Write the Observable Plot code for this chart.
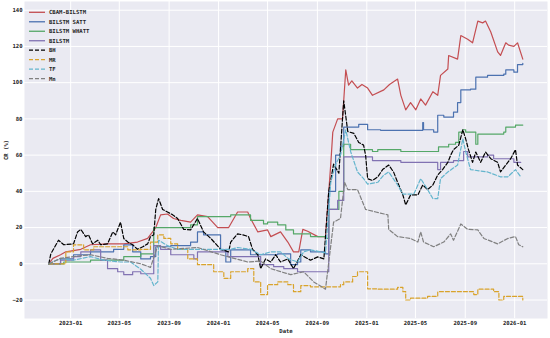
<!DOCTYPE html>
<html>
<head>
<meta charset="utf-8">
<script src="https://cdn.jsdelivr.net/npm/d3@7"></script>
<script src="https://cdn.jsdelivr.net/npm/@observablehq/plot@0.6"></script>
<style>
  html, body { margin: 0; padding: 0; background: white; }
  #chart { width: 550px; height: 338px; }
</style>
</head>
<body>
<div id="chart"></div>
<script>
// ---- Data ----
const seriesNames = ["CBAM-BILSTM", "BILSTM SATT", "BILSTM WHATT", "BILSTM", "BH", "MR", "TF", "Mn"];
const seriesColors = ["#C44E52", "#4C72B0", "#55A868", "#8172B2", "#000000", "#D9A32B", "#64B5CD", "#808080"];
const seriesDashed = [false, false, false, false, true, true, true, true];
const seriesCurve = ["linear", "step-after", "step-after", "step-after", "linear", "step-after", "linear", "linear"];

const xTickDates = ["2023-01-01","2023-05-01","2023-09-01","2024-01-01","2024-05-01","2024-09-01","2025-01-01","2025-05-01","2025-09-01","2026-01-01"];
const yTickValues = [-20, 0, 20, 40, 60, 80, 100, 120, 140];

const cbamBilstm = [
["2022-11-08",0],["2022-11-18",3],["2022-12-07",5],["2022-12-20",6.6],["2023-01-26",8],["2023-02-19",10.5],
["2023-04-02",11],["2023-05-12",11],["2023-06-15",12],["2023-07-10",14],["2023-07-30",20],["2023-08-11",27],
["2023-08-28",27.5],["2023-09-12",25],["2023-09-30",24],["2023-10-24",23],["2023-11-10",27],["2023-12-05",26],
["2023-12-30",20],["2024-01-26",20],["2024-02-17",28.6],["2024-03-13",28.6],["2024-03-20",25],["2024-04-07",17.6],
["2024-05-01",18.7],["2024-05-09",15],["2024-06-02",17.6],["2024-06-20",12],["2024-07-04",6.6],["2024-07-17",6.6],
["2024-07-27",19],["2024-08-08",18],["2024-09-02",15],["2024-09-21",15],["2024-10-04",55],["2024-10-09",72.7],
["2024-10-21",80],["2024-11-02",80],["2024-11-10",107],["2024-11-17",98.6],["2024-11-25",101],["2024-12-09",97],
["2024-12-20",99],["2025-01-03",97],["2025-01-15",93],["2025-02-12",96],["2025-02-26",99],["2025-03-18",102],
["2025-03-26",93],["2025-04-07",85],["2025-04-19",89],["2025-05-02",85],["2025-05-14",91],["2025-05-26",87.6],
["2025-06-13",95],["2025-06-25",93],["2025-07-02",104],["2025-07-20",107.5],["2025-07-22",115],["2025-08-13",113],
["2025-08-21",126],["2025-09-07",124],["2025-09-19",122],["2025-10-02",134],["2025-10-14",133],["2025-10-21",134],
["2025-11-03",128],["2025-11-20",117],["2025-11-27",115],["2025-12-10",122],["2025-12-17",120.7],["2025-12-30",120],
["2026-01-08",122],["2026-01-21",113]
];

const bilstmSatt = [
["2022-11-08",0],["2022-12-07",2.7],["2023-01-08",5],["2023-02-19",6.6],["2023-03-23",6.6],["2023-04-17",8],
["2023-05-12",10.5],["2023-06-03",6.6],["2023-06-23",2.7],["2023-07-17",4],["2023-07-30",9.4],["2023-08-11",9.4],
["2023-09-05",10],["2023-10-24",12],["2023-11-10",17.6],["2023-11-25",16],["2024-01-06",7.7],["2024-01-19",1],
["2024-01-31",7.7],["2024-03-20",5],["2024-04-21",5],["2024-05-26",5.5],["2024-06-27",-0.5],["2024-07-14",1],
["2024-07-22",7.7],["2024-08-15",6.6],["2024-09-21",5.5],["2024-09-29",40],["2024-10-16",60],["2024-10-28",65],
["2024-11-05",75.5],["2024-12-12",77],["2025-01-03",74],["2025-02-04",73.7],["2025-05-14",73.7],["2025-05-19",78],
["2025-05-21",74],["2025-06-15",72.7],["2025-06-25",82],["2025-07-10",81],["2025-08-03",83.7],["2025-08-13",89],
["2025-08-21",96],["2025-09-14",96.4],["2025-09-27",103],["2025-10-26",104],["2025-12-05",104.7],["2025-12-10",107],
["2025-12-30",105.8],["2026-01-08",110],["2026-01-21",110.7]
];

const bilstmWhatt = [
["2022-11-08",0],["2022-12-15",1],["2023-02-19",2],["2023-05-12",4],["2023-06-23",5.5],["2023-07-25",20],
["2023-08-11",20],["2023-09-05",20],["2023-10-24",21.5],["2023-11-10",26],["2023-12-13",26],["2024-01-31",27],
["2024-03-20",24],["2024-04-21",22],["2024-05-01",23],["2024-05-26",21.5],["2024-06-15",18.7],["2024-07-04",16.5],
["2024-08-15",15],["2024-09-21",14],["2024-09-29",30],["2024-10-24",40],["2024-11-05",66],["2024-11-22",63],
["2025-01-03",63],["2025-01-15",62],["2025-01-28",63],["2025-03-26",62],["2025-06-25",62],["2025-06-27",64.5],
["2025-07-22",66],["2025-08-08",67],["2025-08-16",72.7],["2025-08-26",74],["2025-09-02",72.7],["2025-09-22",72.7],
["2025-09-27",66],["2025-10-02",71.6],["2025-11-27",71.6],["2025-12-05",72.7],["2025-12-10",75.5],["2026-01-03",76.6],
["2026-01-21",76.6]
];

const bilstm = [
["2022-11-08",0],["2022-12-07",2],["2023-01-08",4],["2023-01-26",6.6],["2023-02-19",7.7],["2023-03-16",2],
["2023-04-02",-2.7],["2023-04-27",-4.4],["2023-05-12",-6],["2023-06-03",-4.4],["2023-06-23",-5.5],["2023-07-17",-5.5],
["2023-07-25",10],["2023-08-11",8],["2023-09-05",5],["2023-11-01",2.7],["2023-11-10",6.6],["2024-01-14",6.6],
["2024-01-24",4],["2024-03-25",4],["2024-04-14",-0.5],["2024-05-16",-1.6],["2024-06-10",-2.7],["2024-07-14",-4.4],
["2024-09-21",-4.4],["2024-09-29",30],["2024-10-21",35],["2024-11-05",59],["2025-01-03",59],["2025-01-15",57],
["2025-03-18",57],["2025-03-26",56],["2025-06-15",56],["2025-06-25",52],["2025-07-02",56],["2025-08-03",57],
["2025-08-28",62],["2025-09-07",59],["2025-10-09",59],["2025-10-26",60],["2025-11-10",58],["2025-11-27",58],
["2025-12-30",56],["2026-01-16",56]
];

const bh = [
["2022-11-08",0],["2022-11-13",5.5],["2022-12-02",13],["2022-12-15",10.5],["2023-01-08",11],["2023-01-18",17.6],
["2023-01-26",19],["2023-02-07",15],["2023-02-14",16],["2023-02-24",11],["2023-03-09",13],["2023-03-16",10.5],
["2023-04-02",11],["2023-04-15",17.6],["2023-04-22",16],["2023-05-04",23],["2023-05-12",14],["2023-05-22",12],
["2023-06-03",10.5],["2023-06-15",8],["2023-06-28",9.4],["2023-07-10",11],["2023-07-17",15],["2023-07-25",16],
["2023-07-30",30],["2023-08-06",36],["2023-08-16",30],["2023-08-28",28.6],["2023-09-10",27],["2023-09-22",25],
["2023-10-07",19],["2023-10-24",18.7],["2023-11-10",25],["2023-11-25",17.6],["2023-12-13",14],["2024-01-06",8],
["2024-01-26",6.6],["2024-01-31",12],["2024-02-17",16.5],["2024-03-01",16],["2024-03-15",15],["2024-03-25",8],
["2024-04-07",5],["2024-04-14",-2.7],["2024-04-26",2.7],["2024-05-09",1],["2024-05-21",5],["2024-06-02",1],
["2024-06-20",2.7],["2024-07-04",-2.7],["2024-07-22",5],["2024-08-15",2],["2024-09-02",3.8],["2024-09-17",2.7],
["2024-09-29",40],["2024-10-11",55],["2024-10-24",50],["2024-11-05",90],["2024-11-15",73],["2024-11-30",72],
["2024-12-12",67],["2024-12-24",65.5],["2024-12-29",60],["2025-01-03",47],["2025-01-15",46],["2025-01-28",48],
["2025-02-09",52],["2025-02-24",54.5],["2025-03-08",50.7],["2025-03-18",45],["2025-03-31",38],["2025-04-07",32.5],
["2025-04-19",38],["2025-05-07",38],["2025-05-19",43.5],["2025-05-31",41],["2025-06-13",43.5],["2025-06-25",49],
["2025-07-07",52],["2025-07-20",56],["2025-07-27",60],["2025-08-03",63],["2025-08-16",65.5],["2025-08-26",74],
["2025-09-02",69],["2025-09-09",63],["2025-09-19",56],["2025-09-27",61.7],["2025-10-09",56],["2025-10-21",61.7],
["2025-11-03",58],["2025-11-20",56],["2025-11-27",50.7],["2025-12-10",54.5],["2025-12-22",58],["2026-01-03",63],
["2026-01-08",54.5],["2026-01-21",52]
];

const mr = [
["2022-11-08",0],["2022-12-20",6.6],["2023-01-08",10.5],["2023-02-02",7.7],["2023-02-27",9.4],["2023-04-02",9.4],
["2023-05-22",7.7],["2023-06-23",8],["2023-07-17",12],["2023-08-04",16],["2023-08-19",14],["2023-09-05",11],
["2023-09-22",8],["2023-10-17",2.7],["2023-11-10",-0.5],["2023-12-20",-4.4],["2024-01-14",-8],["2024-01-31",-4.4],
["2024-03-13",-2.7],["2024-03-28",-10],["2024-04-14",-17],["2024-05-01",-11.5],["2024-05-26",-10],["2024-06-20",-11.5],
["2024-07-04",-15.4],["2024-07-22",-12],["2024-08-15",-12.7],["2024-09-17",-12.7],["2024-10-28",-11.5],["2024-11-05",-10],
["2024-11-27",-7],["2024-12-09",-4.4],["2024-12-29",-4.4],["2025-01-03",-13.8],["2025-01-28",-14],["2025-03-18",-13],
["2025-03-31",-15.4],["2025-04-07",-20],["2025-04-19",-19],["2025-05-31",-18],["2025-06-25",-15.4],["2025-09-14",-15.4],
["2025-09-22",-17],["2025-10-02",-14],["2025-11-10",-15.4],["2025-11-23",-20],["2025-12-05",-18],["2026-01-08",-18],
["2026-01-21",-20]
];

const tf = [
["2022-11-08",0],["2022-12-07",3],["2023-01-08",2],["2023-02-19",4],["2023-03-23",2],["2023-05-04",1],
["2023-05-29",1],["2023-06-23",-3],["2023-07-17",-8],["2023-07-25",-12],["2023-08-04",-10],["2023-08-06",13],
["2023-08-28",10],["2023-09-22",8],["2023-11-10",8],["2024-01-31",8],["2024-02-17",9],["2024-03-20",8],
["2024-04-14",5],["2024-05-09",6.6],["2024-06-02",6.6],["2024-06-22",2.7],["2024-07-14",1],["2024-07-29",6.6],
["2024-08-15",7.7],["2024-09-09",6.6],["2024-09-21",6],["2024-10-04",45],["2024-10-16",55],["2024-10-28",60],
["2024-11-10",74],["2024-11-22",62],["2024-12-09",50.7],["2024-12-24",47],["2025-01-03",44],["2025-01-28",45],
["2025-02-12",49],["2025-02-24",50.7],["2025-03-18",43.5],["2025-03-31",38.5],["2025-04-27",38.5],["2025-05-14",47],
["2025-05-31",41],["2025-06-13",36],["2025-06-25",36],["2025-07-02",47],["2025-07-20",50.7],["2025-08-13",54.5],
["2025-08-26",69],["2025-09-02",62],["2025-09-14",52],["2025-10-26",50.7],["2025-11-27",48],["2025-12-15",48],
["2026-01-03",52],["2026-01-16",48]
];

const mn = [
["2022-11-08",0],["2022-12-07",3],["2023-01-08",4],["2023-02-19",5],["2023-04-02",3],["2023-05-12",2],
["2023-06-23",0],["2023-07-17",-2],["2023-08-04",10],["2023-09-05",8],["2023-11-10",9],["2024-01-06",5],
["2024-03-13",1],["2024-04-14",1.5],["2024-05-09",-2.7],["2024-06-27",-6],["2024-07-29",-4.4],["2024-08-23",-10],
["2024-09-21",-14],["2024-10-04",10],["2024-10-11",23],["2024-10-28",25],["2024-11-07",45],["2024-11-15",41],
["2024-12-09",41],["2024-12-29",30],["2025-01-23",28.6],["2025-02-22",27],["2025-02-24",19],["2025-03-18",15],
["2025-04-19",14],["2025-05-07",12],["2025-05-14",17.6],["2025-05-21",12],["2025-06-15",9.4],["2025-07-10",12],
["2025-07-27",16.5],["2025-08-03",13],["2025-08-21",22],["2025-09-07",19],["2025-10-02",18.7],["2025-10-17",14],
["2025-11-20",11],["2025-12-15",14],["2026-01-03",15],["2026-01-11",10.5],["2026-01-21",9.4]
];

const allSeries = [cbamBilstm, bilstmSatt, bilstmWhatt, bilstm, bh, mr, tf, mn];

// ---- Build ----
const parse = d3.utcParse("%Y-%m-%d");
const xTicks = xTickDates.map(parse);
const rows = [];
allSeries.forEach((s, i) => s.forEach(([d, v]) => rows.push({date: parse(d), value: v, series: seriesNames[i], idx: i})));

const FONT = "'DejaVu Sans Mono', monospace";
const TXT = "#262626";

const lineMarks = seriesNames.map((name, i) =>
  Plot.line(rows.filter(r => r.idx === i), {
    x: "date", y: "value",
    stroke: seriesColors[i], strokeWidth: 1.2,
    strokeDasharray: seriesDashed[i] ? "4,2" : null,
    curve: seriesCurve[i]
  })
);

const chart = Plot.plot({
  width: 550, height: 338,
  marginLeft: 24, marginRight: 3, marginTop: 1, marginBottom: 20,
  style: {background: "white", fontFamily: FONT, fontSize: "5.6px", fontWeight: "bold", color: TXT, overflow: "visible"},
  x: {type: "utc", domain: [parse("2022-09-09"), parse("2026-03-23")]},
  y: {domain: [-30.2, 144.8]},
  marks: [
    Plot.frame({fill: "#EAEAF2", stroke: null}),
    Plot.gridX(xTicks, {stroke: "white", strokeOpacity: 1, strokeWidth: 1}),
    Plot.gridY(yTickValues, {stroke: "white", strokeOpacity: 1, strokeWidth: 1}),
    Plot.axisX(xTicks, {tickSize: 0, tickPadding: 3, tickFormat: d3.utcFormat("%Y-%m"), label: null, fill: TXT}),
    Plot.axisY(yTickValues, {tickSize: 0, tickPadding: 2, label: null, fill: TXT}),
    ...lineMarks,
    Plot.text(["Date"], {frameAnchor: "bottom", dy: 14, fill: TXT, fontSize: 5.6}),
    Plot.text(["CR (%)"], {frameAnchor: "left", dx: -18, rotate: -90, fill: TXT, fontSize: 5.6})
  ]
});

// Legend (top-left inside the axes)
const svg = d3.select(chart);
const lg = svg.append("g").attr("font-family", FONT).attr("font-size", "5.6px").attr("font-weight", "bold").attr("text-anchor", "start");
seriesNames.forEach((name, i) => {
  const y = 12.3 + i * 9.48;
  lg.append("line").attr("x1", 29).attr("x2", 45).attr("y1", y).attr("y2", y)
    .attr("stroke", seriesColors[i]).attr("stroke-width", 1.3)
    .attr("stroke-dasharray", seriesDashed[i] ? "4,2" : null);
  lg.append("text").attr("x", 49).attr("y", y).attr("dy", "0.35em")
    .attr("text-anchor", "start").attr("fill", TXT).text(name);
});

document.getElementById("chart").appendChild(chart);
</script>
</body>
</html>
